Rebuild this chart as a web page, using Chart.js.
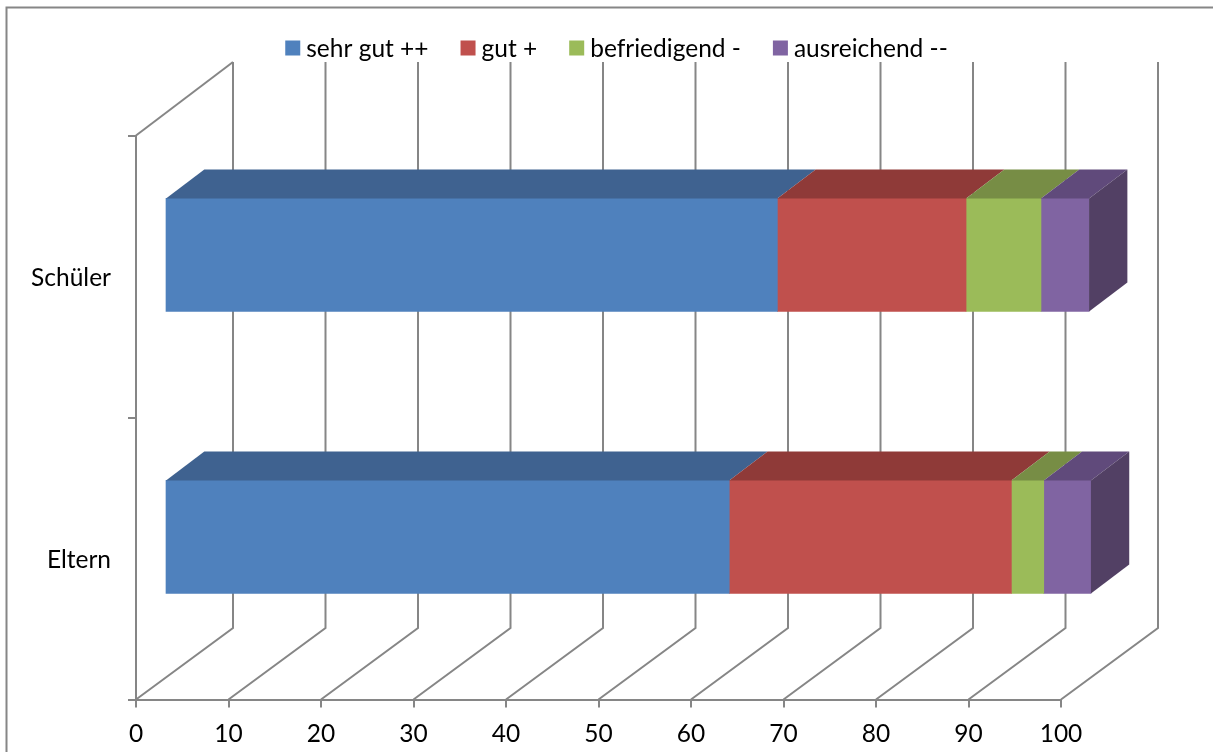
<!DOCTYPE html>
<html lang="de">
<head>
<meta charset="utf-8">
<title>Bewertung Schüler und Eltern</title>
<script src="https://cdn.jsdelivr.net/npm/chart.js@4"></script>
<style>
  html, body { margin: 0; padding: 0; background: #fff; overflow: hidden; }
  canvas { display: block; }
</style>
</head>
<body>
<canvas id="grafico" width="1213" height="752"></canvas>
<script>
const gruppen = ['Schüler', 'Eltern'];
const sehrGut = [66.2, 61.0];
const gut = [20.4, 30.5];
const befriedigend = [8.1, 3.5];
const ausreichend = [5.2, 5.1];
const xTicks = [0, 10, 20, 30, 40, 50, 60, 70, 80, 90, 100];

const axisGrey = '#868686';
const schrift = 'Lato, Carlito, sans-serif';
const schriftGroesse = 24.5;

// front, top and side colour per series
const farben = [
  { front: '#4f81bd', top: '#3f6290', side: '#3a5a84' },
  { front: '#c0504d', top: '#8f3a38', side: '#853533' },
  { front: '#9bbb59', top: '#778d45', side: '#6d8240' },
  { front: '#8064a2', top: '#604a7b', side: '#524064' },
];

// fake 3D: the bars sit a little behind the axis plane, the wall further back
const barShift = { x: 29, y: -21.6 };
const barDepth = { x: 38.3, y: -29 };
const wall = { x: 97, top: 62, bottom: 628 };

// frame of the chart, runs off the page on the right and at the bottom
const rahmen = {
  id: 'rahmen',
  beforeDraw(chart) {
    const ctx = chart.ctx;
    ctx.save();
    ctx.fillStyle = '#fff';
    ctx.fillRect(0, 0, chart.width, chart.height);
    ctx.strokeStyle = axisGrey;
    ctx.lineWidth = 2;
    ctx.beginPath();
    ctx.moveTo(6.5, chart.height + 5);
    ctx.lineTo(6.5, 7.5);
    ctx.lineTo(chart.width + 5, 7.5);
    ctx.stroke();
    ctx.restore();
  },
};

// floor diagonals and wall lines, behind the bars
const wand = {
  id: 'wand',
  beforeDatasetsDraw(chart) {
    const ctx = chart.ctx;
    const sx = chart.scales.x;
    const area = chart.chartArea;
    ctx.save();
    ctx.strokeStyle = axisGrey;
    ctx.lineWidth = 2;
    xTicks.forEach(t => {
      const px = sx.getPixelForValue(t);
      ctx.beginPath();
      ctx.moveTo(px, area.bottom);
      ctx.lineTo(px + wall.x, wall.bottom);
      ctx.lineTo(px + wall.x, wall.top);
      ctx.stroke();
    });
    ctx.beginPath();
    ctx.moveTo(area.left, area.top);
    ctx.lineTo(area.left + wall.x, wall.top);
    ctx.stroke();
    ctx.restore();
    // the bars themselves are drawn in the shifted plane
    ctx.save();
    ctx.translate(barShift.x, barShift.y);
  },
  afterDatasetsDraw(chart) {
    const ctx = chart.ctx;
    const letzte = chart.data.datasets.length - 1;
    chart.data.datasets.forEach((ds, i) => {
      chart.getDatasetMeta(i).data.forEach(bar => {
        const { x, y, base, height } = bar.getProps(['x', 'y', 'base', 'height'], true);
        const oben = y - height / 2;
        const unten = y + height / 2;
        ctx.fillStyle = farben[i].top;
        ctx.beginPath();
        ctx.moveTo(base, oben);
        ctx.lineTo(base + barDepth.x, oben + barDepth.y);
        ctx.lineTo(x + barDepth.x, oben + barDepth.y);
        ctx.lineTo(x, oben);
        ctx.closePath();
        ctx.fill();
        if (i === letzte) {
          ctx.fillStyle = farben[i].side;
          ctx.beginPath();
          ctx.moveTo(x, oben);
          ctx.lineTo(x + barDepth.x, oben + barDepth.y);
          ctx.lineTo(x + barDepth.x, unten + barDepth.y);
          ctx.lineTo(x, unten);
          ctx.closePath();
          ctx.fill();
        }
      });
    });
    ctx.restore();
  },
};

// legend row above the plot, tighter than the built-in one
const legende = {
  id: 'legende',
  afterDraw(chart) {
    const ctx = chart.ctx;
    const mitte = 616.5, y = 48, box = 15, luft = 6, abstand = 32;
    ctx.save();
    ctx.font = schriftGroesse + 'px ' + schrift;
    ctx.textBaseline = 'middle';
    const breiten = chart.data.datasets.map(ds => ctx.measureText(ds.label).width);
    const gesamt = breiten.reduce((a, b) => a + b + box + luft, 0) + abstand * (breiten.length - 1);
    let x = mitte - gesamt / 2;
    chart.data.datasets.forEach((ds, i) => {
      ctx.fillStyle = ds.backgroundColor;
      ctx.fillRect(x, y - box / 2, box, box);
      ctx.fillStyle = '#000';
      ctx.fillText(ds.label, x + box + luft, y + 1);
      x += box + luft + breiten[i] + abstand;
    });
    ctx.restore();
  },
};

const serie = (label, data, i) => ({
  label,
  data,
  backgroundColor: farben[i].front,
  borderWidth: 0,
  barThickness: 113,
  clip: false,
});

new Chart(document.getElementById('grafico').getContext('2d'), {
  type: 'bar',
  data: {
    labels: gruppen,
    datasets: [
      serie('sehr gut ++', sehrGut, 0),
      serie('gut +', gut, 1),
      serie('befriedigend -', befriedigend, 2),
      serie('ausreichend --', ausreichend, 3),
    ],
  },
  plugins: [rahmen, wand, legende],
  options: {
    indexAxis: 'y',
    responsive: false,
    animation: false,
    layout: { padding: { top: 135.5, right: 152, left: 0, bottom: 0 } },
    plugins: { legend: { display: false }, tooltip: { enabled: false } },
    scales: {
      x: {
        stacked: true,
        min: 0,
        max: 100,
        afterFit(s) { s.height = 52.5; },
        ticks: { stepSize: 10, color: '#000', font: { family: schrift, size: schriftGroesse }, padding: 12, maxRotation: 0 },
        grid: { drawOnChartArea: false, color: axisGrey, lineWidth: 2, tickLength: 8 },
        border: { color: axisGrey, width: 2 },
      },
      y: {
        stacked: true,
        afterFit(s) { s.width = 136; },
        ticks: { color: '#000', font: { family: schrift, size: schriftGroesse }, padding: 17, labelOffset: 2 },
        grid: { drawOnChartArea: false, color: axisGrey, lineWidth: 2, tickLength: 8 },
        border: { color: axisGrey, width: 2 },
      },
    },
  },
});
</script>
</body>
</html>
